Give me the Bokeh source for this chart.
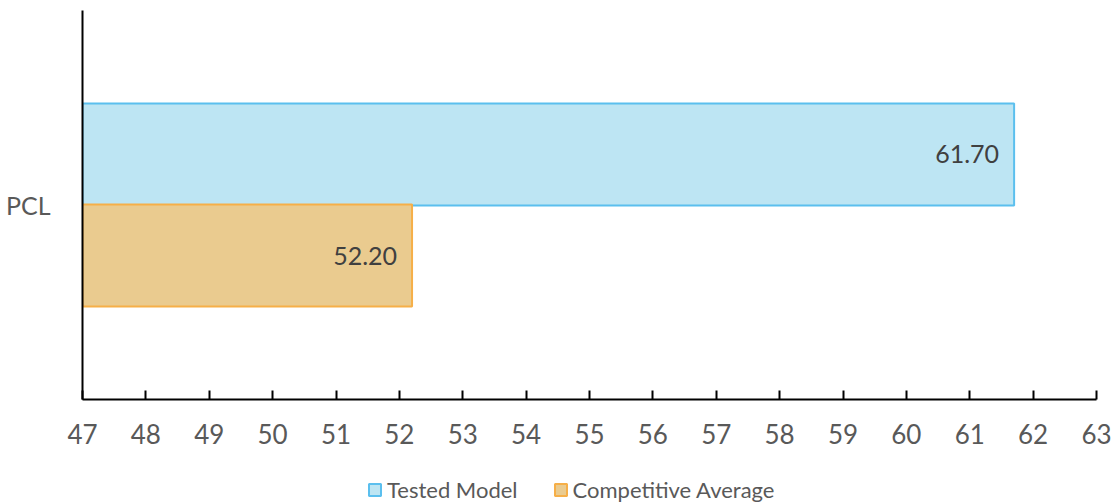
from bokeh.plotting import figure
from bokeh.layouts import column
from bokeh.models import ColumnDataSource, FactorRange, Range1d, Legend, LegendItem, FixedTicker
from bokeh.transform import dodge
from bokeh.core.properties import value
from bokeh.embed import file_html
from bokeh.resources import INLINE

categories = ["PCL"]
series_names = ["Tested Model", "Competitive Average"]
tested_model = [61.70]
competitive_average = [52.20]
x_ticks = list(range(47, 64))

FONT = "Lato"
fill_colors = ["#BDE5F3", "#EACB8F"]
line_colors = ["#5BBFEE", "#F6AF48"]

p = figure(width=1115, height=465, output_backend="svg", toolbar_location=None,
           y_range=FactorRange(factors=categories, range_padding=0),
           x_range=Range1d(47, 63),
           min_border_left=82, min_border_right=19, min_border_top=10, min_border_bottom=66)
p.outline_line_color = None
p.grid.visible = False
p.background_fill_color = None
p.border_fill_color = None

src1 = ColumnDataSource(dict(cat=categories, val=tested_model, lbl=[f"{v:.2f}" for v in tested_model]))
src2 = ColumnDataSource(dict(cat=categories, val=competitive_average, lbl=[f"{v:.2f}" for v in competitive_average]))

bar_kw = [dict(fill_color=fill_colors[i], line_color=line_colors[i], line_width=2) for i in range(2)]

r1 = p.hbar(y=dodge("cat", 0.13, range=p.y_range), left=47, right="val", height=0.262, source=src1, **bar_kw[0])
r2 = p.hbar(y=dodge("cat", -0.13, range=p.y_range), left=47, right="val", height=0.262, source=src2, **bar_kw[1])

for src, off in ((src1, 0.13), (src2, -0.13)):
    p.text(x="val", y=dodge("cat", off, range=p.y_range), text="lbl", source=src,
           x_offset=-15, text_align="right", text_baseline="middle",
           text_font=value(FONT), text_font_size="25px", text_color="#404040")

xa = p.xaxis[0]
xa.ticker = FixedTicker(ticks=x_ticks)
xa.axis_line_color = "black"
xa.axis_line_width = 2
xa.major_tick_line_color = "black"
xa.major_tick_line_width = 2
xa.major_tick_in = 9
xa.major_tick_out = 0
xa.minor_tick_line_color = None
xa.major_label_text_font = FONT
xa.major_label_text_font_size = "26px"
xa.major_label_text_color = "#595959"
xa.major_label_standoff = 24

ya = p.yaxis[0]
ya.axis_line_color = "black"
ya.axis_line_width = 2
ya.major_tick_line_color = None
ya.major_tick_in = 0
ya.major_tick_out = 0
ya.minor_tick_line_color = None
ya.major_label_text_font = FONT
ya.major_label_text_font_size = "25px"
ya.major_label_text_color = "#595959"
ya.major_label_standoff = 32

# legend strip below the chart (same sources; its bars have zero size so only the legend shows)
lg = figure(width=1115, height=38, output_backend="svg", toolbar_location=None,
            x_axis_type=None, y_axis_type=None,
            x_range=Range1d(47, 63), y_range=FactorRange(factors=categories, range_padding=0),
            min_border_left=82, min_border_right=19, min_border_top=0, min_border_bottom=0)
lg.outline_line_color = None
lg.grid.visible = False
lg.background_fill_color = None
lg.border_fill_color = None
l1 = lg.hbar(y="cat", left="val", right="val", height=0, source=src1, **bar_kw[0])
l2 = lg.hbar(y="cat", left="val", right="val", height=0, source=src2, **bar_kw[1])

legend = Legend(items=[LegendItem(label=series_names[0], renderers=[l1]),
                       LegendItem(label=series_names[1], renderers=[l2])],
                orientation="horizontal", location=(285, 0),
                label_text_font=FONT, label_text_font_size="22px", label_text_color="#595959",
                glyph_width=15, glyph_height=15, label_standoff=5, spacing=35,
                padding=0, margin=0, border_line_color=None, background_fill_alpha=0)
lg.add_layout(legend, "center")

layout = column(p, lg, spacing=0)
open("out.html", "w").write(file_html(layout, INLINE))
